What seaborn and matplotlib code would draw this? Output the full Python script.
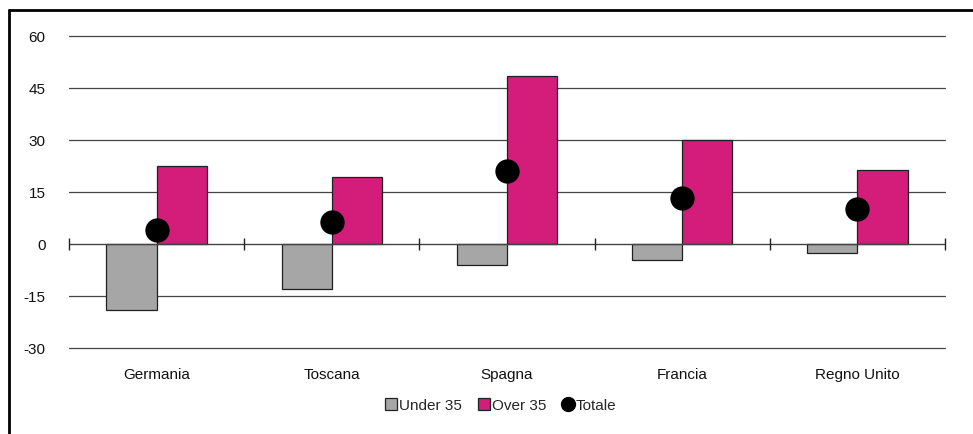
import matplotlib
matplotlib.use("Agg")
import matplotlib.pyplot as plt
from matplotlib.lines import Line2D
import seaborn as sns
import pandas as pd
import numpy as np

categories = ["Germania", "Toscana", "Spagna", "Francia", "Regno Unito"]
under35 = [-19.0, -13.1, -6.0, -4.5, -2.5]
over35 = [22.5, 19.3, 48.4, 30.1, 21.3]
totale = [3.9, 6.3, 21.1, 13.3, 10.1]
series_names = ["Under 35", "Over 35", "Totale"]
yticks = [-30, -15, 0, 15, 30, 45, 60]

sns.set_theme(style="white")
plt.rcParams['font.family'] = ['Liberation Sans', 'DejaVu Sans']

GRAY = "#A6A6A6"
PINK = "#D41C7A"
FS = 11

fig = plt.figure(figsize=(9.73, 4.35), dpi=100)
ax = fig.add_axes([69/973, 1-349/435, (945-69)/973, (349-37)/435])

df = pd.DataFrame({
    "cat": categories * 2,
    "val": under35 + over35,
    "serie": [series_names[0]] * len(categories) + [series_names[1]] * len(categories),
})

sns.barplot(data=df, x="cat", y="val", hue="serie", order=categories,
            hue_order=series_names[:2], palette=[GRAY, PINK], width=0.572,
            saturation=1, edgecolor="#202020", linewidth=0.9, ax=ax,
            legend=False, zorder=3)

sns.stripplot(x=categories, y=totale, order=categories, jitter=False, color="black",
              size=17.5, linewidth=0, ax=ax, zorder=5)

ax.set_ylim(-30, 60)
ax.set_xlim(-0.5, len(categories) - 0.5)
ax.set_yticks(yticks)
ax.set_yticklabels([str(t) for t in yticks], fontsize=FS, color="#111111")
ax.tick_params(axis="y", length=0, pad=17)
ax.tick_params(axis="x", length=0, pad=14, labelsize=FS, labelcolor="#111111")
ax.set_xlabel("")
ax.set_ylabel("")
for s in ax.spines.values():
    s.set_visible(False)
for t in yticks:
    if t != 0:
        ax.axhline(t, color="#444444", lw=0.9, zorder=1, clip_on=False)
ax.axhline(0, color="#444444", lw=1.0, zorder=4)
bounds = np.arange(len(categories) + 1) - 0.5
ax.vlines(bounds, -1.8, 1.8, color="#222222", lw=1.0, zorder=4, clip_on=False)

handles = [
    Line2D([], [], marker="s", linestyle="none", markersize=8.5, markerfacecolor=GRAY,
           markeredgecolor="#222222", markeredgewidth=0.9, label=series_names[0]),
    Line2D([], [], marker="s", linestyle="none", markersize=8.5, markerfacecolor=PINK,
           markeredgecolor="#222222", markeredgewidth=0.9, label=series_names[1]),
    Line2D([], [], marker="o", linestyle="none", markersize=10, markerfacecolor="black",
           markeredgecolor="black", label=series_names[2]),
]
fig.legend(handles=handles, loc="center", bbox_to_anchor=(500/973, 1-406/435), ncol=3,
           frameon=False, fontsize=FS, handletextpad=0.05, columnspacing=0.9,
           handlelength=1.0, borderpad=0)

fig.add_artist(Line2D([8.5/973, 1], [1-10.5/435, 1-10.5/435], color="black", lw=2.0,
                      transform=fig.transFigure))
fig.add_artist(Line2D([8.5/973, 8.5/973], [0, 1-10.5/435], color="black", lw=2.0,
                      transform=fig.transFigure))

fig.savefig("out.png", dpi=100)
